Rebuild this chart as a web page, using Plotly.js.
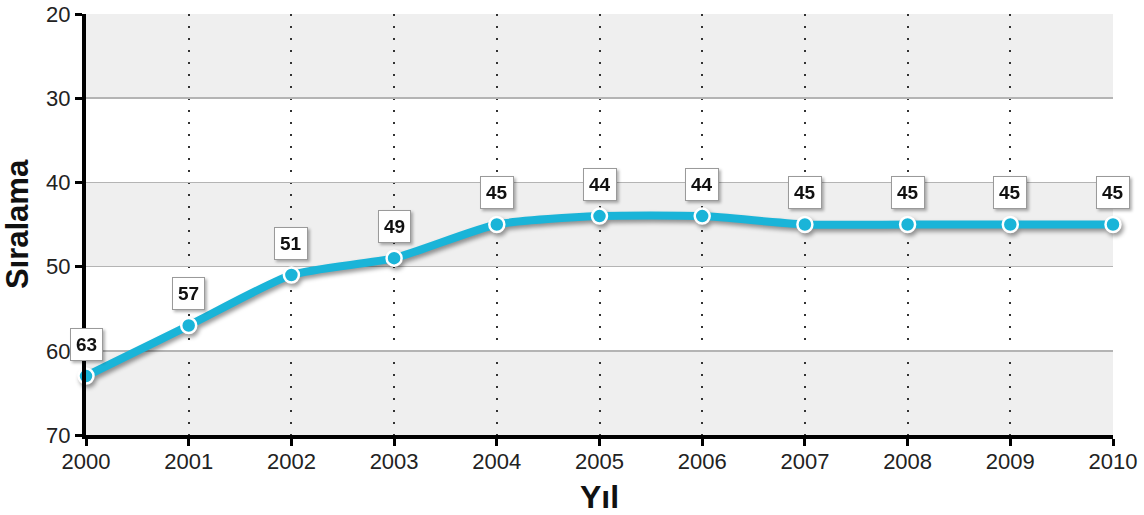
<!DOCTYPE html>
<html>
<head>
<meta charset="utf-8">
<script src="https://cdn.plot.ly/plotly-3.0.1.min.js"></script>
<style>
  html, body { margin: 0; padding: 0; background: #ffffff; }
  #chart { width: 1144px; height: 515px; }
  #chart .scatterlayer { filter: drop-shadow(2px 3px 2px rgba(0,0,0,0.4)); }
  #chart .annotation { filter: drop-shadow(2px 2px 1.5px rgba(0,0,0,0.3)); }
</style>
</head>
<body>
<div id="chart"></div>
<script>
// Yearly ranking values
const years = [2000, 2001, 2002, 2003, 2004, 2005, 2006, 2007, 2008, 2009, 2010];
const ranks = [63, 57, 51, 49, 45, 44, 44, 45, 45, 45, 45];
const yTicks = [20, 30, 40, 50, 60, 70];
// Alternating background bands [from, to]
const bands = [[20, 30], [40, 50], [60, 70]];

const lineColor = '#1ab4d8';
const fontFamily = 'Liberation Sans, Arial, sans-serif';

const trace = {
  x: years,
  y: ranks,
  type: 'scatter',
  mode: 'lines+markers',
  line: { color: lineColor, width: 8, shape: 'spline', smoothing: 0.6 },
  marker: { color: lineColor, size: 15, line: { color: '#ffffff', width: 2.5 } },
  cliponaxis: false,
  hoverinfo: 'x+y'
};

const shapes = bands.map(b => ({
  type: 'rect', xref: 'x', yref: 'y',
  x0: years[0], x1: years[years.length - 1], y0: b[0], y1: b[1],
  fillcolor: '#efefef', line: { width: 0 }, layer: 'below'
}));

const annotations = years.map((yr, i) => ({
  x: yr, y: ranks[i], xref: 'x', yref: 'y',
  text: '<b>' + ranks[i] + '</b>',
  showarrow: false,
  yshift: 32,
  font: { family: fontFamily, size: 19, color: '#111' },
  bgcolor: '#ffffff',
  bordercolor: '#9a9a9a',
  borderwidth: 1,
  borderpad: 5
}));

const axisFont = { family: fontFamily, size: 22, color: '#222' };

const layout = {
  width: 1144,
  height: 515,
  margin: { l: 86, r: 31, t: 14, b: 80 },
  paper_bgcolor: '#ffffff',
  plot_bgcolor: '#ffffff',
  showlegend: false,
  shapes: shapes,
  annotations: annotations,
  xaxis: {
    range: [2000, 2010],
    tickvals: years,
    ticktext: years.map(String),
    tickfont: axisFont,
    ticklabelstandoff: -3,
    showline: true, linecolor: '#000', linewidth: 4,
    ticks: 'outside', ticklen: 7, tickwidth: 3, tickcolor: '#000',
    showgrid: true, gridcolor: '#333', gridwidth: 2, griddash: '2px,10px',
    zeroline: false,
    automargin: false,
    title: { text: '<b>Yıl</b>', font: { family: fontFamily, size: 32, color: '#111' }, standoff: 14 }
  },
  yaxis: {
    range: [70, 20],
    tickvals: yTicks,
    tickfont: axisFont,
    showline: true, linecolor: '#000', linewidth: 4,
    ticks: 'outside', ticklen: 7, tickwidth: 3, tickcolor: '#000',
    showgrid: true, gridcolor: '#b4b4b4', gridwidth: 1.5,
    zeroline: false,
    automargin: false,
    title: { text: '<b>Sıralama</b>', font: { family: fontFamily, size: 31, color: '#111' }, standoff: 10 }
  }
};

Plotly.newPlot('chart', [trace], layout, { staticPlot: true });
</script>
</body>
</html>
